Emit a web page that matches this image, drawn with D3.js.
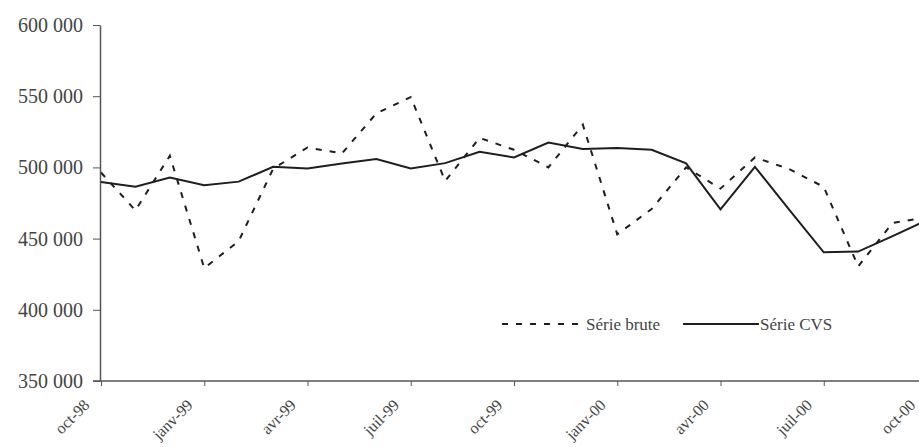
<!DOCTYPE html>
<html>
<head>
<meta charset="utf-8">
<script src="https://cdn.jsdelivr.net/npm/d3@7"></script>
<style>
  body { margin: 0; background: #fff; }
  svg { display: block; }
  .axis text { font-family: "Liberation Serif", "Times New Roman", serif; fill: #444; }
  .axis path, .axis line { stroke: #555; }
  .legend text { font-family: "Liberation Serif", "Times New Roman", serif; fill: #444; font-size: 17px; }
</style>
</head>
<body>
<div id="chart"></div>
<script>
const WIDTH = 919
const HEIGHT = 447

const months = ['oct-98', 'nov-98', 'déc-98', 'janv-99', 'févr-99', 'mars-99', 'avr-99', 'mai-99', 'juin-99',
  'juil-99', 'août-99', 'sept-99', 'oct-99', 'nov-99', 'déc-99', 'janv-00', 'févr-00', 'mars-00', 'avr-00',
  'mai-00', 'juin-00', 'juil-00', 'août-00', 'sept-00', 'oct-00']

const serieBrute = [496400, 469800, 508200, 429300, 448200, 499000, 514000, 509800, 537900,
  549400, 490500, 520700, 512400, 500000, 530000, 453000, 470800, 500000, 485100,
  507000, 498800, 486300, 430500, 461000, 465000]

const serieCVS = [489800, 486500, 492900, 487500, 490000, 500400, 499200, 502800, 505900,
  499200, 503000, 511000, 507000, 517400, 512900, 513600, 512400, 502800, 470600,
  500400, 470200, 440400, 440900, 451700, 463000]

const yTicks = [350000, 400000, 450000, 500000, 550000, 600000]
const xTickIndex = [0, 3, 6, 9, 12, 15, 18, 21, 24]

const main = _ => {
  const svg = d3.select('#chart')
    .append('svg')
    .attr('width', WIDTH)
    .attr('height', HEIGHT)

  const x = d3.scaleLinear()
    .domain([0, months.length - 1])
    .range([101, 927])

  const y = d3.scaleLinear()
    .domain([350000, 600000])
    .range([381, 25])

  const fmt = d => d3.format(',')(d).replace(/,/g, ' ')

  // y axis
  const yAxis = svg.append('g')
    .attr('class', 'axis')
    .attr('transform', 'translate(100, 0)')
    .call(d3.axisLeft(y).tickValues(yTicks).tickFormat(fmt).tickSize(7).tickSizeOuter(0).tickPadding(10))
  yAxis.selectAll('text').style('font-size', '20px')
  yAxis.select('.domain').attr('stroke-width', 1.5)

  // x axis
  const xAxis = svg.append('g')
    .attr('class', 'axis')
    .attr('transform', 'translate(0, 381)')
    .call(d3.axisBottom(x).tickValues(xTickIndex).tickFormat(i => months[i]).tickSize(5).tickSizeOuter(0))
  xAxis.select('.domain').attr('d', `M93,0H${WIDTH}`).attr('stroke-width', 1.5)
  xAxis.selectAll('text')
    .style('font-size', '16px')
    .style('text-anchor', 'end')
    .attr('x', 0)
    .attr('y', 0)
    .attr('dy', 0)
    .attr('transform', 'translate(-11, 25) rotate(-45)')

  const line = d3.line()
    .x((d, i) => x(i))
    .y(d => y(d))

  svg.append('path')
    .datum(serieBrute)
    .attr('fill', 'none')
    .attr('stroke', '#1e1e1e')
    .attr('stroke-width', 2)
    .attr('stroke-dasharray', '6,8')
    .attr('d', line)

  svg.append('path')
    .datum(serieCVS)
    .attr('fill', 'none')
    .attr('stroke', '#1e1e1e')
    .attr('stroke-width', 2)
    .attr('d', line)

  // legend
  const legend = svg.append('g').attr('class', 'legend')
  legend.append('line')
    .attr('x1', 502).attr('x2', 584).attr('y1', 324).attr('y2', 324)
    .attr('stroke', '#1e1e1e').attr('stroke-width', 2).attr('stroke-dasharray', '6,8')
  legend.append('text').attr('x', 586).attr('y', 330).text('Série brute')
  legend.append('line')
    .attr('x1', 683).attr('x2', 759).attr('y1', 324).attr('y2', 324)
    .attr('stroke', '#1e1e1e').attr('stroke-width', 2)
  legend.append('text').attr('x', 760).attr('y', 330).text('Série CVS')
}

document.addEventListener('DOMContentLoaded', main)
</script>
</body>
</html>
